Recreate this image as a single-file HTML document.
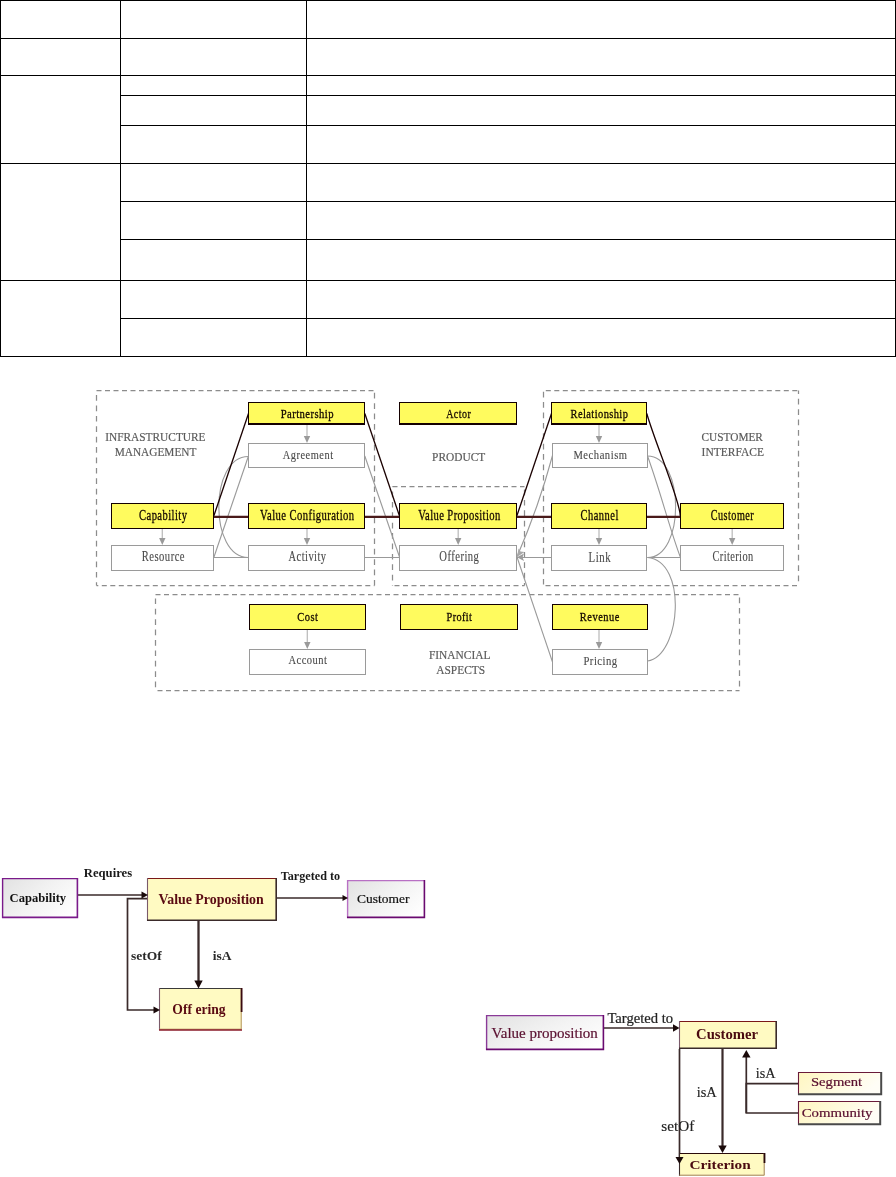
<!DOCTYPE html>
<html><head><meta charset="utf-8"><style>
html,body{margin:0;padding:0;background:#fff;}
#p{position:relative;width:896px;height:1177px;overflow:hidden;background:#fff;}
svg{position:absolute;left:0;top:0;will-change:transform;}
svg text{font-family:"Liberation Serif",serif;}
</style></head><body><div id="p">
<div style="position:absolute;left:0px;top:0px;width:896px;height:1px;background:#000"></div>
<div style="position:absolute;left:0px;top:38px;width:896px;height:1px;background:#000"></div>
<div style="position:absolute;left:0px;top:75px;width:896px;height:1px;background:#000"></div>
<div style="position:absolute;left:0px;top:163px;width:896px;height:1px;background:#000"></div>
<div style="position:absolute;left:0px;top:280px;width:896px;height:1px;background:#000"></div>
<div style="position:absolute;left:0px;top:356px;width:896px;height:1px;background:#000"></div>
<div style="position:absolute;left:120px;top:95px;width:776px;height:1px;background:#000"></div>
<div style="position:absolute;left:120px;top:125px;width:776px;height:1px;background:#000"></div>
<div style="position:absolute;left:120px;top:201px;width:776px;height:1px;background:#000"></div>
<div style="position:absolute;left:120px;top:239px;width:776px;height:1px;background:#000"></div>
<div style="position:absolute;left:120px;top:318px;width:776px;height:1px;background:#000"></div>
<div style="position:absolute;left:0px;top:0px;width:1px;height:357px;background:#000"></div>
<div style="position:absolute;left:120px;top:0px;width:1px;height:357px;background:#000"></div>
<div style="position:absolute;left:306px;top:0px;width:1px;height:357px;background:#000"></div>
<div style="position:absolute;left:895px;top:0px;width:1px;height:357px;background:#000"></div>
<svg width="896" height="1177" viewBox="0 0 896 1177">
<defs>
<linearGradient id="pg" x1="0" y1="0.2" x2="1" y2="0.8">
<stop offset="0" stop-color="#e4e4e4"/><stop offset="0.5" stop-color="#f3f3f3"/><stop offset="1" stop-color="#ffffff"/></linearGradient>
<linearGradient id="yg2" x1="0" y1="0" x2="1" y2="0.3">
<stop offset="0" stop-color="#fff6c0"/><stop offset="0.6" stop-color="#fffbe0"/><stop offset="1" stop-color="#fffdf6"/></linearGradient>
</defs>
<line x1="96.5" y1="390.5" x2="374.5" y2="390.5" stroke="#8c8c8c" stroke-width="1.25" stroke-dasharray="5.0 3.5" stroke-dashoffset="0.00"/>
<line x1="96.5" y1="585.5" x2="374.5" y2="585.5" stroke="#8c8c8c" stroke-width="1.25" stroke-dasharray="5.0 3.5" stroke-dashoffset="3.20"/>
<line x1="96.5" y1="390.5" x2="96.5" y2="585.5" stroke="#8c8c8c" stroke-width="1.25" stroke-dasharray="5.7 4.7" stroke-dashoffset="5.80"/>
<line x1="374.5" y1="390.5" x2="374.5" y2="585.5" stroke="#8c8c8c" stroke-width="1.25" stroke-dasharray="5.7 4.7" stroke-dashoffset="8.10"/>
<line x1="392.5" y1="486.5" x2="524.5" y2="486.5" stroke="#8c8c8c" stroke-width="1.25" stroke-dasharray="5.0 3.5" stroke-dashoffset="0.00"/>
<line x1="392.5" y1="585.5" x2="524.5" y2="585.5" stroke="#8c8c8c" stroke-width="1.25" stroke-dasharray="5.0 3.5" stroke-dashoffset="6.50"/>
<line x1="392.5" y1="486.5" x2="392.5" y2="585.5" stroke="#8c8c8c" stroke-width="1.25" stroke-dasharray="5.7 4.7" stroke-dashoffset="5.40"/>
<line x1="524.5" y1="486.5" x2="524.5" y2="585.5" stroke="#8c8c8c" stroke-width="1.25" stroke-dasharray="5.7 4.7" stroke-dashoffset="7.40"/>
<line x1="543.5" y1="390.5" x2="798.5" y2="390.5" stroke="#8c8c8c" stroke-width="1.25" stroke-dasharray="5.0 3.5" stroke-dashoffset="6.20"/>
<line x1="543.5" y1="585.5" x2="798.5" y2="585.5" stroke="#8c8c8c" stroke-width="1.25" stroke-dasharray="5.0 3.5" stroke-dashoffset="6.50"/>
<line x1="543.5" y1="390.5" x2="543.5" y2="585.5" stroke="#8c8c8c" stroke-width="1.25" stroke-dasharray="5.7 4.7" stroke-dashoffset="9.20"/>
<line x1="798.5" y1="390.5" x2="798.5" y2="585.5" stroke="#8c8c8c" stroke-width="1.25" stroke-dasharray="5.7 4.7" stroke-dashoffset="2.10"/>
<line x1="155.5" y1="594.5" x2="739.5" y2="594.5" stroke="#8c8c8c" stroke-width="1.25" stroke-dasharray="5.0 3.5" stroke-dashoffset="0.00"/>
<line x1="155.5" y1="690.5" x2="739.5" y2="690.5" stroke="#8c8c8c" stroke-width="1.25" stroke-dasharray="5.0 3.5" stroke-dashoffset="6.50"/>
<line x1="155.5" y1="594.5" x2="155.5" y2="690.5" stroke="#8c8c8c" stroke-width="1.25" stroke-dasharray="5.7 4.7" stroke-dashoffset="6.50"/>
<line x1="739.5" y1="594.5" x2="739.5" y2="690.5" stroke="#8c8c8c" stroke-width="1.25" stroke-dasharray="5.7 4.7" stroke-dashoffset="7.40"/>
<text x="105.19" y="440.75" textLength="100.36" lengthAdjust="spacingAndGlyphs" font-size="13" fill="#5a5a5a" stroke="#5a5a5a" stroke-width="0.2">INFRASTRUCTURE</text>
<text x="114.68" y="455.5" textLength="81.77" lengthAdjust="spacingAndGlyphs" font-size="13" fill="#5a5a5a" stroke="#5a5a5a" stroke-width="0.2">MANAGEMENT</text>
<text x="432.08" y="460.7" textLength="53.12" lengthAdjust="spacingAndGlyphs" font-size="12.7" fill="#5a5a5a" stroke="#5a5a5a" stroke-width="0.2">PRODUCT</text>
<text x="701.55" y="440.8" textLength="61.37" lengthAdjust="spacingAndGlyphs" font-size="12.7" fill="#5a5a5a" stroke="#5a5a5a" stroke-width="0.2">CUSTOMER</text>
<text x="701.59" y="455.7" textLength="62.39" lengthAdjust="spacingAndGlyphs" font-size="12.7" fill="#5a5a5a" stroke="#5a5a5a" stroke-width="0.2">INTERFACE</text>
<text x="428.98" y="658.8" textLength="61.49" lengthAdjust="spacingAndGlyphs" font-size="13.5" fill="#5a5a5a" stroke="#5a5a5a" stroke-width="0.2">FINANCIAL</text>
<text x="436.19" y="673.5" textLength="48.92" lengthAdjust="spacingAndGlyphs" font-size="13" fill="#5a5a5a" stroke="#5a5a5a" stroke-width="0.2">ASPECTS</text>
<path d="M213.8,557.5 L248.3,456.5" fill="none" stroke="#999" stroke-width="1.1"/>
<path d="M248.3,456.5 C209,456.5 209,557.5 248.3,557.5" fill="none" stroke="#999" stroke-width="1.1"/>
<path d="M213.8,557.5 L248.3,557.5" fill="none" stroke="#999" stroke-width="1.1"/>
<path d="M364.8,557.5 L399.5,557.5" fill="none" stroke="#999" stroke-width="1.1"/>
<path d="M364.8,456 L399.5,557" fill="none" stroke="#999" stroke-width="1.1"/>
<path d="M552.5,455.5 Q539,506 517,556.8" fill="none" stroke="#999" stroke-width="1.1"/>
<path d="M551.5,557.5 L517,557.5" fill="none" stroke="#999" stroke-width="1.1"/>
<path d="M552.5,662 L517,557" fill="none" stroke="#999" stroke-width="1.1"/>
<path d="M647.5,456 C685,456 685,557.5 647.5,557.5" fill="none" stroke="#999" stroke-width="1.1"/>
<path d="M647.5,456 C660,490 670,530 680.5,557.5" fill="none" stroke="#999" stroke-width="1.1"/>
<path d="M647.5,557.5 L680.5,557.5" fill="none" stroke="#999" stroke-width="1.1"/>
<path d="M647.5,557.5 C688,561 681,656 647.5,661" fill="none" stroke="#999" stroke-width="1.1"/>
<line x1="213.8" y1="516" x2="248.5" y2="413.5" stroke="#1a0000" stroke-width="1.3"/>
<line x1="364.8" y1="413.5" x2="399.5" y2="516" stroke="#1a0000" stroke-width="1.3"/>
<line x1="551.5" y1="413.5" x2="516.8" y2="516" stroke="#1a0000" stroke-width="1.3"/>
<path d="M646.8,413.5 C654,440 680,500 680.3,516" fill="none" stroke="#1a0000" stroke-width="1.3"/>
<line x1="213.8" y1="516.8" x2="248.5" y2="516.8" stroke="#4a1a1a" stroke-width="2.2"/>
<line x1="364.8" y1="516.8" x2="399.5" y2="516.8" stroke="#4a1a1a" stroke-width="2.2"/>
<line x1="516.8" y1="516.8" x2="551.5" y2="516.8" stroke="#4a1a1a" stroke-width="2.2"/>
<line x1="646.8" y1="516.8" x2="680.3" y2="516.8" stroke="#4a1a1a" stroke-width="2.2"/>
<rect x="248" y="402" width="117" height="23" fill="#140000"/>
<rect x="249" y="403" width="115" height="20" fill="#fffb5e"/>
<text transform="translate(280.7,417.6) scale(0.8215,1)" x="0" y="0" textLength="64.28" lengthAdjust="spacing" font-size="13" fill="#140800" stroke="#140800" stroke-width="0.3">Partnership</text>
<rect x="399" y="402" width="118" height="23" fill="#140000"/>
<rect x="400" y="403" width="116" height="20" fill="#fffb5e"/>
<text transform="translate(446.15,417.6) scale(0.7694,1)" x="0" y="0" textLength="32.15" lengthAdjust="spacing" font-size="13" fill="#140800" stroke="#140800" stroke-width="0.3">Actor</text>
<rect x="551" y="402" width="96" height="23" fill="#140000"/>
<rect x="552" y="403" width="94" height="20" fill="#fffb5e"/>
<text transform="translate(570.61,417.7) scale(0.8027,1)" x="0" y="0" textLength="71.36" lengthAdjust="spacing" font-size="13" fill="#140800" stroke="#140800" stroke-width="0.3">Relationship</text>
<rect x="248" y="443" width="117" height="25" fill="#9a9a9a"/>
<rect x="249" y="444" width="115" height="23" fill="#fff"/>
<text transform="translate(282.8,458.5) scale(0.8011,1)" x="0" y="0" textLength="62.75" lengthAdjust="spacing" font-size="13" fill="#4a4a4a" stroke="#4a4a4a" stroke-width="0.12">Agreement</text>
<rect x="552" y="443" width="96" height="25" fill="#9a9a9a"/>
<rect x="553" y="444" width="94" height="23" fill="#fff"/>
<text transform="translate(573.4,458.6) scale(0.8146,1)" x="0" y="0" textLength="65.88" lengthAdjust="spacing" font-size="13" fill="#4a4a4a" stroke="#4a4a4a" stroke-width="0.12">Mechanism</text>
<rect x="111" y="503" width="103" height="26" fill="#140000"/>
<rect x="112" y="504" width="101" height="24" fill="#fffb5e"/>
<text transform="translate(139.08,519.6) scale(0.7557,1)" x="0" y="0" textLength="63.34" lengthAdjust="spacing" font-size="14" fill="#140800" stroke="#140800" stroke-width="0.3">Capability</text>
<rect x="248" y="503" width="117" height="26" fill="#140000"/>
<rect x="249" y="504" width="115" height="24" fill="#fffb5e"/>
<text transform="translate(260.09,519.5) scale(0.7597,1)" x="0" y="0" textLength="123.8" lengthAdjust="spacing" font-size="14" fill="#140800" stroke="#140800" stroke-width="0.3">Value Configuration</text>
<rect x="399" y="503" width="118" height="26" fill="#140000"/>
<rect x="400" y="504" width="116" height="24" fill="#fffb5e"/>
<text transform="translate(418.19,519.5) scale(0.7556,1)" x="0" y="0" textLength="108.6" lengthAdjust="spacing" font-size="14" fill="#140800" stroke="#140800" stroke-width="0.3">Value Proposition</text>
<rect x="551" y="503" width="96" height="26" fill="#140000"/>
<rect x="552" y="504" width="94" height="24" fill="#fffb5e"/>
<text transform="translate(580.48,519.7) scale(0.7471,1)" x="0" y="0" textLength="50.64" lengthAdjust="spacing" font-size="14" fill="#140800" stroke="#140800" stroke-width="0.3">Channel</text>
<rect x="680" y="503" width="104" height="26" fill="#140000"/>
<rect x="681" y="504" width="102" height="24" fill="#fffb5e"/>
<text transform="translate(710.69,519.7) scale(0.7273,1)" x="0" y="0" textLength="59.12" lengthAdjust="spacing" font-size="14" fill="#140800" stroke="#140800" stroke-width="0.3">Customer</text>
<rect x="111" y="545" width="103" height="26" fill="#9a9a9a"/>
<rect x="112" y="546" width="101" height="24" fill="#fff"/>
<text transform="translate(141.7,561.4) scale(0.7581,1)" x="0" y="0" textLength="56.54" lengthAdjust="spacing" font-size="14" fill="#4a4a4a" stroke="#4a4a4a" stroke-width="0.12">Resource</text>
<rect x="248" y="545" width="117" height="26" fill="#9a9a9a"/>
<rect x="249" y="546" width="115" height="24" fill="#fff"/>
<text transform="translate(288.59,561.3) scale(0.751,1)" x="0" y="0" textLength="49.86" lengthAdjust="spacing" font-size="14" fill="#4a4a4a" stroke="#4a4a4a" stroke-width="0.12">Activity</text>
<rect x="399" y="545" width="118" height="26" fill="#9a9a9a"/>
<rect x="400" y="546" width="116" height="24" fill="#fff"/>
<text transform="translate(439.37,561.2) scale(0.7594,1)" x="0" y="0" textLength="52.04" lengthAdjust="spacing" font-size="14" fill="#4a4a4a" stroke="#4a4a4a" stroke-width="0.12">Offering</text>
<rect x="551" y="545" width="96" height="26" fill="#9a9a9a"/>
<rect x="552" y="546" width="94" height="24" fill="#fff"/>
<text transform="translate(588.5,561.5) scale(0.7702,1)" x="0" y="0" textLength="28.71" lengthAdjust="spacing" font-size="14" fill="#4a4a4a" stroke="#4a4a4a" stroke-width="0.12">Link</text>
<rect x="680" y="545" width="104" height="26" fill="#9a9a9a"/>
<rect x="681" y="546" width="102" height="24" fill="#fff"/>
<text transform="translate(712.49,561.2) scale(0.741,1)" x="0" y="0" textLength="54.87" lengthAdjust="spacing" font-size="14" fill="#4a4a4a" stroke="#4a4a4a" stroke-width="0.12">Criterion</text>
<rect x="249" y="604" width="117" height="26" fill="#140000"/>
<rect x="250" y="605" width="115" height="24" fill="#fffb5e"/>
<text transform="translate(297.18,620.7) scale(0.8035,1)" x="0" y="0" textLength="25.86" lengthAdjust="spacing" font-size="13" fill="#140800" stroke="#140800" stroke-width="0.3">Cost</text>
<rect x="400" y="604" width="118" height="26" fill="#140000"/>
<rect x="401" y="605" width="116" height="24" fill="#fffb5e"/>
<text transform="translate(446.61,620.7) scale(0.7884,1)" x="0" y="0" textLength="32.15" lengthAdjust="spacing" font-size="13" fill="#140800" stroke="#140800" stroke-width="0.3">Profit</text>
<rect x="552" y="604" width="96" height="26" fill="#140000"/>
<rect x="553" y="605" width="94" height="24" fill="#fffb5e"/>
<text transform="translate(579.81,620.6) scale(0.8012,1)" x="0" y="0" textLength="49.37" lengthAdjust="spacing" font-size="13" fill="#140800" stroke="#140800" stroke-width="0.3">Revenue</text>
<rect x="249" y="649" width="117" height="26" fill="#9a9a9a"/>
<rect x="250" y="650" width="115" height="24" fill="#fff"/>
<text transform="translate(288.39,664.4) scale(0.808,1)" x="0" y="0" textLength="47.85" lengthAdjust="spacing" font-size="13" fill="#4a4a4a" stroke="#4a4a4a" stroke-width="0.12">Account</text>
<rect x="552" y="649" width="96" height="26" fill="#9a9a9a"/>
<rect x="553" y="650" width="94" height="24" fill="#fff"/>
<text transform="translate(583.5,664.5) scale(0.8217,1)" x="0" y="0" textLength="40.77" lengthAdjust="spacing" font-size="13" fill="#4a4a4a" stroke="#4a4a4a" stroke-width="0.12">Pricing</text>
<line x1="307" y1="425" x2="307" y2="438" stroke="#bdbdbd" stroke-width="1.3"/>
<path d="M303.8,436 L310.2,436 L307,443 Z" fill="#9a9a9a"/>
<line x1="599" y1="425" x2="599" y2="438" stroke="#bdbdbd" stroke-width="1.3"/>
<path d="M595.8,436 L602.2,436 L599,443 Z" fill="#9a9a9a"/>
<line x1="162.3" y1="529" x2="162.3" y2="540" stroke="#bdbdbd" stroke-width="1.3"/>
<path d="M159.10000000000002,538 L165.5,538 L162.3,545 Z" fill="#9a9a9a"/>
<line x1="307" y1="529" x2="307" y2="540" stroke="#bdbdbd" stroke-width="1.3"/>
<path d="M303.8,538 L310.2,538 L307,545 Z" fill="#9a9a9a"/>
<line x1="458.2" y1="529" x2="458.2" y2="540" stroke="#bdbdbd" stroke-width="1.3"/>
<path d="M455.0,538 L461.4,538 L458.2,545 Z" fill="#9a9a9a"/>
<line x1="599" y1="529" x2="599" y2="540" stroke="#bdbdbd" stroke-width="1.3"/>
<path d="M595.8,538 L602.2,538 L599,545 Z" fill="#9a9a9a"/>
<line x1="732.2" y1="529" x2="732.2" y2="540" stroke="#bdbdbd" stroke-width="1.3"/>
<path d="M729.0,538 L735.4000000000001,538 L732.2,545 Z" fill="#9a9a9a"/>
<line x1="307.3" y1="630" x2="307.3" y2="644" stroke="#bdbdbd" stroke-width="1.3"/>
<path d="M304.1,642 L310.5,642 L307.3,649 Z" fill="#9a9a9a"/>
<line x1="599" y1="630" x2="599" y2="644" stroke="#bdbdbd" stroke-width="1.3"/>
<path d="M595.8,642 L602.2,642 L599,649 Z" fill="#9a9a9a"/>
<path d="M517,557.3 L524,553.5 L522.5,557.3 L524,561 Z" fill="#9c9c9c"/>
<path d="M517,557 L518.5,548.5 L520.5,551.5 L524.5,552 Z" fill="#a8a8a8"/>
<path d="M77,895 L142,895" fill="none" stroke="#3a2a2a" stroke-width="1.7"/>
<path d="M277,898 L343,898" fill="none" stroke="#3a2a2a" stroke-width="1.5"/>
<path d="M148,898.6 L127.5,898.6 L127.5,1010 L154,1010" fill="none" stroke="#3a2a2a" stroke-width="1.7"/>
<path d="M198.5,921 L198.5,981" fill="none" stroke="#3a2a2a" stroke-width="2.3"/>
<rect x="2" y="878" width="76" height="40" fill="url(#pg)"/>
<path d="M2.6,918 V878.6 H78" fill="none" stroke="#7a1a8a" stroke-width="1.4"/>
<path d="M77.4,878 V917.4 H2" fill="none" stroke="#7a1a8a" stroke-width="1.6"/>
<rect x="147" y="878" width="130" height="43" fill="#fffac2"/>
<line x1="147" y1="878.5" x2="277" y2="878.5" stroke="#7a1818" stroke-width="1.2"/>
<line x1="147.5" y1="878" x2="147.5" y2="921" stroke="#7a5a6a" stroke-width="1.1"/>
<path d="M276.2,878 V920.2 H147" fill="none" stroke="#3a2a2a" stroke-width="1.6"/>
<rect x="347" y="880" width="78" height="38" fill="url(#pg)"/>
<path d="M347.6,918 V880.6 H425" fill="none" stroke="#b870c4" stroke-width="1.4"/>
<path d="M424.4,880 V917.4 H347" fill="none" stroke="#6a0a70" stroke-width="1.6"/>
<rect x="159" y="988" width="83" height="42" fill="#fffac2"/>
<line x1="159" y1="988.5" x2="242" y2="988.5" stroke="#3a3a3a" stroke-width="1.2"/>
<line x1="159.5" y1="988" x2="159.5" y2="1030" stroke="#7a5a6a" stroke-width="1.1"/>
<path d="M241.2,988 V1029.2 H159" fill="none" stroke="#b09060" stroke-width="1"/>
<line x1="241.6" y1="988" x2="241.6" y2="1012" stroke="#3a0a10" stroke-width="1.8"/>
<line x1="159" y1="1030" x2="242" y2="1030" stroke="#8a1a2a" stroke-width="1.6"/>
<text x="9.6" y="902" textLength="56.52" lengthAdjust="spacingAndGlyphs" font-size="13" fill="#111" font-weight="bold">Capability</text>
<text x="83.8" y="877.3" textLength="48.29" lengthAdjust="spacingAndGlyphs" font-size="13" fill="#1a1a1a" font-weight="bold">Requires</text>
<text x="158.46" y="903.6" textLength="105.35" lengthAdjust="spacingAndGlyphs" font-size="14" fill="#5a0a12" font-weight="bold">Value Proposition</text>
<text x="280.81" y="880.2" textLength="59.27" lengthAdjust="spacingAndGlyphs" font-size="13" fill="#1a1a1a" font-weight="bold">Targeted to</text>
<text x="356.96" y="902.9" textLength="52.46" lengthAdjust="spacingAndGlyphs" font-size="13" fill="#111" stroke="#111" stroke-width="0.2">Customer</text>
<text x="130.99" y="960.3" textLength="30.75" lengthAdjust="spacingAndGlyphs" font-size="13" fill="#2a2a2a" font-weight="bold">setOf</text>
<text x="212.7" y="959.8" textLength="18.77" lengthAdjust="spacingAndGlyphs" font-size="13" fill="#2a2a2a" font-weight="bold">isA</text>
<text x="172.35" y="1013.75" textLength="53.28" lengthAdjust="spacingAndGlyphs" font-size="14" fill="#5a0a12" font-weight="bold">Off ering</text>
<path d="M604,1028 L673,1028" fill="none" stroke="#3a2a2a" stroke-width="1.7"/>
<path d="M679.5,1049 L679.5,1157" fill="none" stroke="#3a2a2a" stroke-width="1.7"/>
<path d="M722.5,1049 L722.5,1146" fill="none" stroke="#3a2a2a" stroke-width="2.2"/>
<path d="M798,1083.7 L746.3,1083.7 L746.3,1113 L798,1113" fill="none" stroke="#3a2a2a" stroke-width="1.7"/>
<path d="M746.3,1113 L746.3,1057" fill="none" stroke="#3a2a2a" stroke-width="1.7"/>
<rect x="486" y="1015" width="118" height="35" fill="url(#pg)"/>
<path d="M486.6,1050 V1015.6 H604" fill="none" stroke="#8a3a98" stroke-width="1.4"/>
<path d="M603.4,1015 V1049.4 H486" fill="none" stroke="#6a0a70" stroke-width="1.6"/>
<rect x="679" y="1021" width="98" height="28" fill="#fffac2"/>
<line x1="679" y1="1021.5" x2="777" y2="1021.5" stroke="#7a1818" stroke-width="1.2"/>
<line x1="679.5" y1="1021" x2="679.5" y2="1049" stroke="#7a5a6a" stroke-width="1.1"/>
<path d="M776.2,1021 V1048.2 H679" fill="none" stroke="#3a2a2a" stroke-width="1.6"/>
<rect x="798" y="1072" width="84" height="23" fill="url(#yg2)"/>
<line x1="798" y1="1072.5" x2="882" y2="1072.5" stroke="#6a1a3a" stroke-width="1.2"/>
<line x1="798.5" y1="1072" x2="798.5" y2="1095" stroke="#6a1a3a" stroke-width="1.1"/>
<path d="M881.2,1072 V1094.2 H798" fill="none" stroke="#4a4a4a" stroke-width="2"/>
<rect x="798" y="1101" width="83" height="24" fill="url(#yg2)"/>
<line x1="798" y1="1101.5" x2="881" y2="1101.5" stroke="#6a1a3a" stroke-width="1.2"/>
<line x1="798.5" y1="1101" x2="798.5" y2="1125" stroke="#6a1a3a" stroke-width="1.1"/>
<path d="M880.2,1101 V1124.2 H798" fill="none" stroke="#4a4a4a" stroke-width="2"/>
<rect x="679" y="1153" width="86" height="23" fill="#fffac2"/>
<line x1="679" y1="1153.5" x2="765" y2="1153.5" stroke="#2a0a0a" stroke-width="1.2"/>
<line x1="679.5" y1="1153" x2="679.5" y2="1176" stroke="#3a2a2a" stroke-width="1.1"/>
<path d="M764.2,1153 V1175.2 H679" fill="none" stroke="#a08060" stroke-width="1"/>
<line x1="764.5" y1="1153" x2="764.5" y2="1163" stroke="#2a0a0a" stroke-width="1.8"/>
<text x="491.55" y="1037.5" textLength="106.27" lengthAdjust="spacingAndGlyphs" font-size="15" fill="#5a1030" stroke="#5a1030" stroke-width="0.2">Value proposition</text>
<text x="607.44" y="1022.7" textLength="65.71" lengthAdjust="spacingAndGlyphs" font-size="14" fill="#222" stroke="#222" stroke-width="0.2">Targeted to</text>
<text x="696.1" y="1039.1" textLength="61.91" lengthAdjust="spacingAndGlyphs" font-size="14" fill="#4a0a10" font-weight="bold">Customer</text>
<text x="696.71" y="1096.7" textLength="20.06" lengthAdjust="spacingAndGlyphs" font-size="14" fill="#222" stroke="#222" stroke-width="0.15">isA</text>
<text x="661.39" y="1131" textLength="32.98" lengthAdjust="spacingAndGlyphs" font-size="14" fill="#222" stroke="#222" stroke-width="0.15">setOf</text>
<text x="755.72" y="1077.8" textLength="19.76" lengthAdjust="spacingAndGlyphs" font-size="14" fill="#222" stroke="#222" stroke-width="0.15">isA</text>
<text x="810.93" y="1086.4" textLength="51.25" lengthAdjust="spacingAndGlyphs" font-size="12.5" fill="#5a1030" stroke="#5a1030" stroke-width="0.2">Segment</text>
<text x="801.71" y="1116.6" textLength="70.76" lengthAdjust="spacingAndGlyphs" font-size="13.5" fill="#5a1030" stroke="#5a1030" stroke-width="0.2">Community</text>
<text x="689.46" y="1168.8" textLength="61.26" lengthAdjust="spacingAndGlyphs" font-size="13" fill="#4a0a10" font-weight="bold">Criterion</text>
<path d="M148,895 L141.5,891.5 L141.5,898.5 Z" fill="#1a0a0a"/>
<path d="M348,898 L342.5,895 L342.5,901 Z" fill="#1a0a0a"/>
<path d="M160,1010 L153.5,1006.5 L153.5,1013.5 Z" fill="#1a0a0a"/>
<path d="M198.5,988.5 L194.3,980.5 L202.7,980.5 Z" fill="#1a0a0a"/>
<path d="M679.5,1028 L673.0,1024.2 L673.0,1031.8 Z" fill="#1a0a0a"/>
<path d="M679.5,1164 L675.5,1157 L683.5,1157 Z" fill="#1a0a0a"/>
<path d="M722.5,1153 L718.3,1145.5 L726.7,1145.5 Z" fill="#1a0a0a"/>
<path d="M746.3,1050 L742.0999999999999,1057.5 L750.5,1057.5 Z" fill="#1a0a0a"/>
</svg>
</div></body></html>
